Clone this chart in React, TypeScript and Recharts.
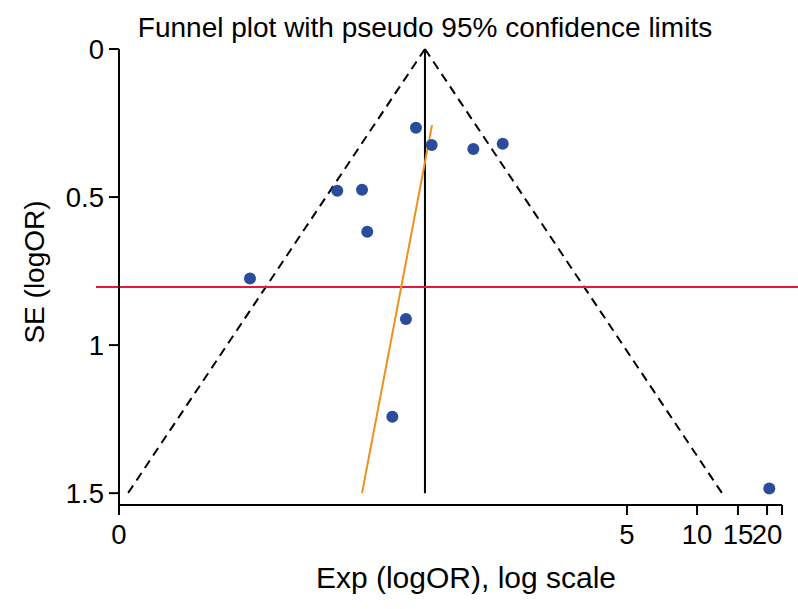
import React from 'react';
import { ComposedChart, Scatter, XAxis, YAxis, ReferenceLine } from 'recharts';

// study estimates (x = log odds ratio, y = standard error)
const studyLogOR = [-0.48, -0.324, 0.088, 0.379, -1.259, -1.014, -0.962, -2.123, -0.579, -0.714, 3.018];
const studySE = [0.266, 0.324, 0.338, 0.32, 0.479, 0.475, 0.617, 0.775, 0.912, 1.242, 1.484];

// pooled estimate and pseudo 95% limits at the bottom of the funnel
const pooledLogOR = -0.391;
const funnelBottomSE = 1.5;
const funnelLeftLogOR = -3.331;
const funnelRightLogOR = 2.55;

// egger-type regression line end points
const eggerLogOR = [-1.014, -0.321];
const eggerSE = [1.5, 0.257];

// horizontal red reference
const redLineSE = 0.804;
const redLineLogOR = [-3.648, 3.302];

// axes
const xTickPos = [-3.42, 1.609, 2.303, 2.708, 2.996, 3.144];
const xTickLabels = ['0', '5', '10', '15', '20', ''];
const yTicks = [0, 0.5, 1, 1.5];

const FONT = '"Liberation Sans", Arial, sans-serif';

export default function App() {
    const data = studyLogOR.map((x, i) => ({ x, se: studySE[i] }));
    const tickStyle = { fill: '#000', fontSize: 27.5, fontFamily: FONT };

    return (
        <div style={{ position: 'relative', width: 798, height: 609, background: '#fff', fontFamily: FONT }}>
            <style>{`body{margin:0}`}</style>
            <ComposedChart width={798} height={609} data={data} margin={{ top: 49, right: 16, left: 49, bottom: 44 }}>
                <XAxis
                    type="number"
                    dataKey="x"
                    domain={[-3.42, 3.144]}
                    allowDataOverflow
                    ticks={xTickPos}
                    interval={0}
                    tickFormatter={(v) => xTickLabels[xTickPos.indexOf(v)] ?? ''}
                    height={60}
                    tickSize={10}
                    tickMargin={9}
                    stroke="#000"
                    strokeWidth={2}
                    tick={tickStyle}
                />
                <YAxis
                    type="number"
                    dataKey="se"
                    reversed
                    domain={[0, 1.54]}
                    allowDataOverflow
                    ticks={yTicks}
                    interval={0}
                    width={70}
                    tickSize={10}
                    tickMargin={5}
                    stroke="#000"
                    strokeWidth={2}
                    tick={tickStyle}
                />
                <ReferenceLine
                    segment={[{ x: pooledLogOR, y: 0 }, { x: funnelLeftLogOR, y: funnelBottomSE }]}
                    stroke="#000" strokeWidth={2} strokeDasharray="9 6" ifOverflow="visible"
                />
                <ReferenceLine
                    segment={[{ x: pooledLogOR, y: 0 }, { x: funnelRightLogOR, y: funnelBottomSE }]}
                    stroke="#000" strokeWidth={2} strokeDasharray="9 6" ifOverflow="visible"
                />
                <ReferenceLine
                    segment={[{ x: pooledLogOR, y: 0 }, { x: pooledLogOR, y: funnelBottomSE }]}
                    stroke="#000" strokeWidth={2} ifOverflow="visible"
                />
                <ReferenceLine
                    segment={[{ x: redLineLogOR[0], y: redLineSE }, { x: redLineLogOR[1], y: redLineSE }]}
                    stroke="#e5173f" strokeWidth={2} ifOverflow="visible"
                />
                <ReferenceLine
                    segment={[{ x: eggerLogOR[0], y: eggerSE[0] }, { x: eggerLogOR[1], y: eggerSE[1] }]}
                    stroke="#ee9020" strokeWidth={2} ifOverflow="visible"
                />
                <Scatter
                    dataKey="se"
                    isAnimationActive={false}
                    shape={(p: any) => <circle cx={p.cx} cy={p.cy} r={6} fill="#2b4c9c" />}
                />
            </ComposedChart>
            <div style={{ position: 'absolute', left: 425, top: 14, transform: 'translateX(-50%)', fontSize: 28, lineHeight: '28px', whiteSpace: 'nowrap', color: '#000' }}>
                Funnel plot with pseudo 95% confidence limits
            </div>
            <div style={{ position: 'absolute', left: 466, top: 563, transform: 'translateX(-50%)', fontSize: 30, lineHeight: '30px', whiteSpace: 'nowrap', color: '#000' }}>
                Exp (logOR), log scale
            </div>
            <div style={{ position: 'absolute', left: 35, top: 272, transform: 'translate(-50%, -50%) rotate(-90deg)', fontSize: 28, lineHeight: '28px', whiteSpace: 'nowrap', color: '#000' }}>
                SE (logOR)
            </div>
        </div>
    );
}
